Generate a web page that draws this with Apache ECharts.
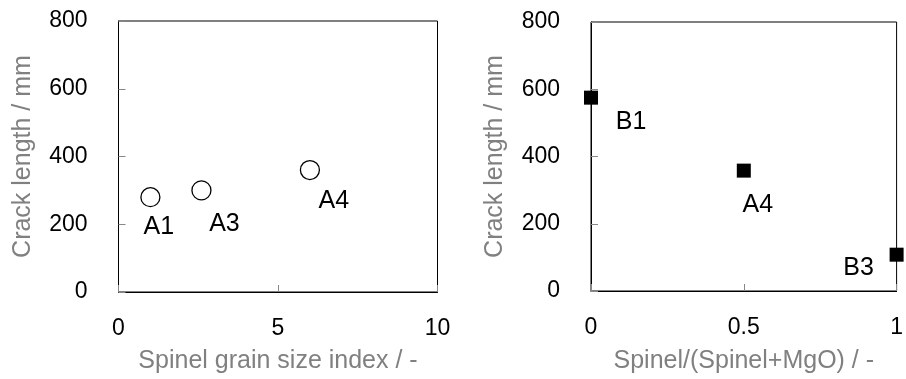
<!DOCTYPE html>
<html>
<head>
<meta charset="utf-8">
<script src="https://cdn.jsdelivr.net/npm/echarts@6/dist/echarts.min.js"></script>
<style>
html,body{margin:0;padding:0;background:#fff;}
#c{width:906px;height:379px;}
</style>
</head>
<body>
<div id="c"></div>
<script>
// Left chart: crack length vs spinel grain size index
var leftNames = ['A1', 'A3', 'A4'];
var leftX = [1.0, 2.6, 6.0];
var leftY = [280, 300, 360];

// Right chart: crack length vs Spinel/(Spinel+MgO)
var rightNames = ['B1', 'A4', 'B3'];
var rightX = [0, 0.5, 1];
var rightY = [575, 358, 108];

var leftXTicks = [0, 5, 10];
var rightXTicks = [0, 0.5, 1];
var yTicks = [0, 200, 400, 600, 800];

// label offsets (styling only)
var leftLabelOffsets = [[8.5, 30], [23, 34], [24, 31]];
var rightLabelOffsets = [[40, 24], [14, 34], [-38, 13]];

var FONT = 'Liberation Sans, Arial, sans-serif';

function axisCommon() {
  return {
    axisLine: {show: true, lineStyle: {color: '#000', width: 1}},
    axisTick: {show: true, inside: true, length: 7, lineStyle: {color: '#888', width: 1}},
    splitLine: {show: false},
    nameLocation: 'middle',
    nameTextStyle: {color: '#808080', fontSize: 25, fontFamily: FONT},
    axisLabel: {color: '#000', fontSize: 23, fontFamily: FONT}
  };
}

function mk(xs, ys, names, offs) {
  return xs.map(function (x, i) {
    return {
      value: [x, ys[i]],
      name: names[i],
      label: {show: true, formatter: names[i], offset: offs[i], position: 'inside'}
    };
  });
}

var xL = axisCommon();
Object.assign(xL, {type: 'value', gridIndex: 0, min: leftXTicks[0], max: leftXTicks[leftXTicks.length - 1], interval: 5,
  name: 'Spinel grain size index / -', nameGap: 57});
xL.axisLabel = Object.assign({}, xL.axisLabel, {margin: 25});
var xR = axisCommon();
Object.assign(xR, {type: 'value', gridIndex: 1, min: rightXTicks[0], max: rightXTicks[rightXTicks.length - 1], interval: 0.5,
  name: 'Spinel/(Spinel+MgO) / -', nameGap: 58});
xR.axisLabel = Object.assign({}, xR.axisLabel, {margin: 25});
var yL = axisCommon();
Object.assign(yL, {type: 'value', gridIndex: 0, min: yTicks[0], max: yTicks[yTicks.length - 1], interval: 200,
  name: 'Crack length / mm', nameGap: 83});
yL.axisLabel = Object.assign({}, yL.axisLabel, {margin: 31});
var yR = axisCommon();
Object.assign(yR, {type: 'value', gridIndex: 1, min: yTicks[0], max: yTicks[yTicks.length - 1], interval: 200,
  name: 'Crack length / mm', nameGap: 83});
yR.axisLabel = Object.assign({}, yR.axisLabel, {margin: 31});

var chart = echarts.init(document.getElementById('c'), null, {renderer: 'canvas'});
chart.setOption({
  animation: false,
  backgroundColor: '#fff',
  textStyle: {fontFamily: FONT},
  grid: [
    {left: 118.5, top: 21, width: 319, height: 272.5, show: true, borderColor: '#000', borderWidth: 1, backgroundColor: 'transparent'},
    {left: 591, top: 22, width: 311, height: 273.5, show: true, borderColor: '#000', borderWidth: 1, backgroundColor: 'transparent'}
  ],
  xAxis: [xL, xR],
  yAxis: [yL, yR],
  series: [
    {
      type: 'scatter', xAxisIndex: 0, yAxisIndex: 0,
      symbol: 'circle', symbolSize: 19,
      itemStyle: {color: '#fff', borderColor: '#000', borderWidth: 1.3, opacity: 1},
      label: {color: '#000', fontSize: 25, fontFamily: FONT},
      clip: false,
      data: mk(leftX, leftY, leftNames, leftLabelOffsets)
    },
    {
      type: 'scatter', xAxisIndex: 1, yAxisIndex: 1,
      symbol: 'rect', symbolSize: 14,
      itemStyle: {color: '#000', opacity: 1},
      label: {color: '#000', fontSize: 25, fontFamily: FONT},
      clip: false,
      data: mk(rightX, rightY, rightNames, rightLabelOffsets)
    }
  ]
});
</script>
</body>
</html>
